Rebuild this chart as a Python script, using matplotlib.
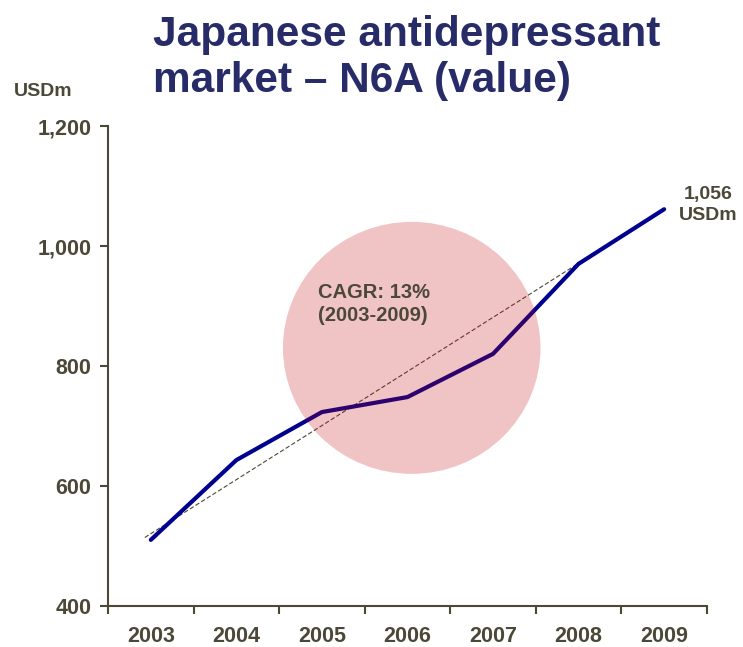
import matplotlib.pyplot as plt
from matplotlib.patches import Ellipse
from matplotlib.ticker import FixedLocator

plt.rcParams["font.family"] = ["Liberation Sans", "DejaVu Sans"]

YEARS = ["2003", "2004", "2005", "2006", "2007", "2008", "2009"]
MARKET_USDM = [511, 644, 724, 749, 821, 971, 1062]
# dashed trend line (year index, value)
TREND_X = [-0.07, 6.0]
TREND_Y = [515, 1062]
Y_TICKS = [400, 600, 800, 1000, 1200]

TEXT_COLOR = "#4B4838"
TITLE_COLOR = "#272B68"
LINE_COLOR = "#000090"


def main() -> None:
    fig = plt.figure(figsize=(7.43, 6.47), dpi=100)
    ax = fig.add_axes([0.1454, 0.0626, 0.806, 0.742])

    x = list(range(len(YEARS)))

    ax.plot(TREND_X, TREND_Y, color="#4B4838", linestyle=(0, (4, 2)), linewidth=0.8, zorder=2)
    ax.plot(x, MARKET_USDM, color=LINE_COLOR, linewidth=3.0, solid_capstyle="round", zorder=3)

    circle = Ellipse((3.05, 831), width=3.01, height=420, facecolor="#C00000", alpha=0.23,
                     edgecolor="none", zorder=4)
    ax.add_patch(circle)

    ax.text(1.96, 904, "CAGR: 13%\n(2003-2009)", color=TEXT_COLOR, fontsize=14.5, fontweight="bold",
            ha="left", va="center", linespacing=1.3, zorder=5)
    ax.text(6.52, 1069, "1,056\nUSDm", color=TEXT_COLOR, fontsize=14, fontweight="bold",
            ha="center", va="center", linespacing=1.25, clip_on=False)

    ax.set_xlim(-0.5, 6.5)
    ax.set_ylim(400, 1200)

    # category boundaries carry the tick marks, labels sit in between
    ax.xaxis.set_major_locator(FixedLocator([i - 0.5 for i in range(len(YEARS) + 1)]))
    ax.xaxis.set_major_formatter(plt.NullFormatter())
    ax.xaxis.set_minor_locator(FixedLocator(x))
    ax.set_xticklabels(YEARS, minor=True)
    ax.tick_params(axis="x", which="minor", length=0, pad=14)
    ax.tick_params(axis="x", which="major", length=6, width=1.5, color=TEXT_COLOR)

    ax.set_yticks(Y_TICKS)
    ax.set_yticklabels([f"{v:,}" for v in Y_TICKS])
    ax.tick_params(axis="y", length=6, width=1.5, color=TEXT_COLOR, pad=6)

    for lbl in ax.get_xticklabels(minor=True) + ax.get_yticklabels():
        lbl.set_fontsize(15.5)
        lbl.set_fontweight("bold")
        lbl.set_color(TEXT_COLOR)

    for side in ["top", "right"]:
        ax.spines[side].set_visible(False)
    for side in ["left", "bottom"]:
        ax.spines[side].set_color(TEXT_COLOR)
        ax.spines[side].set_linewidth(1.5)

    fig.text(0.206, 0.977, "Japanese antidepressant\nmarket \u2013 N6A (value)", color=TITLE_COLOR,
             fontsize=30.5, fontweight="bold", ha="left", va="top", linespacing=1.2)
    fig.text(0.058, 0.859, "USDm", color=TEXT_COLOR, fontsize=14, fontweight="bold",
             ha="center", va="center")

    fig.savefig("out.png", dpi=100)
    plt.close(fig)


if __name__ == "__main__":
    main()
